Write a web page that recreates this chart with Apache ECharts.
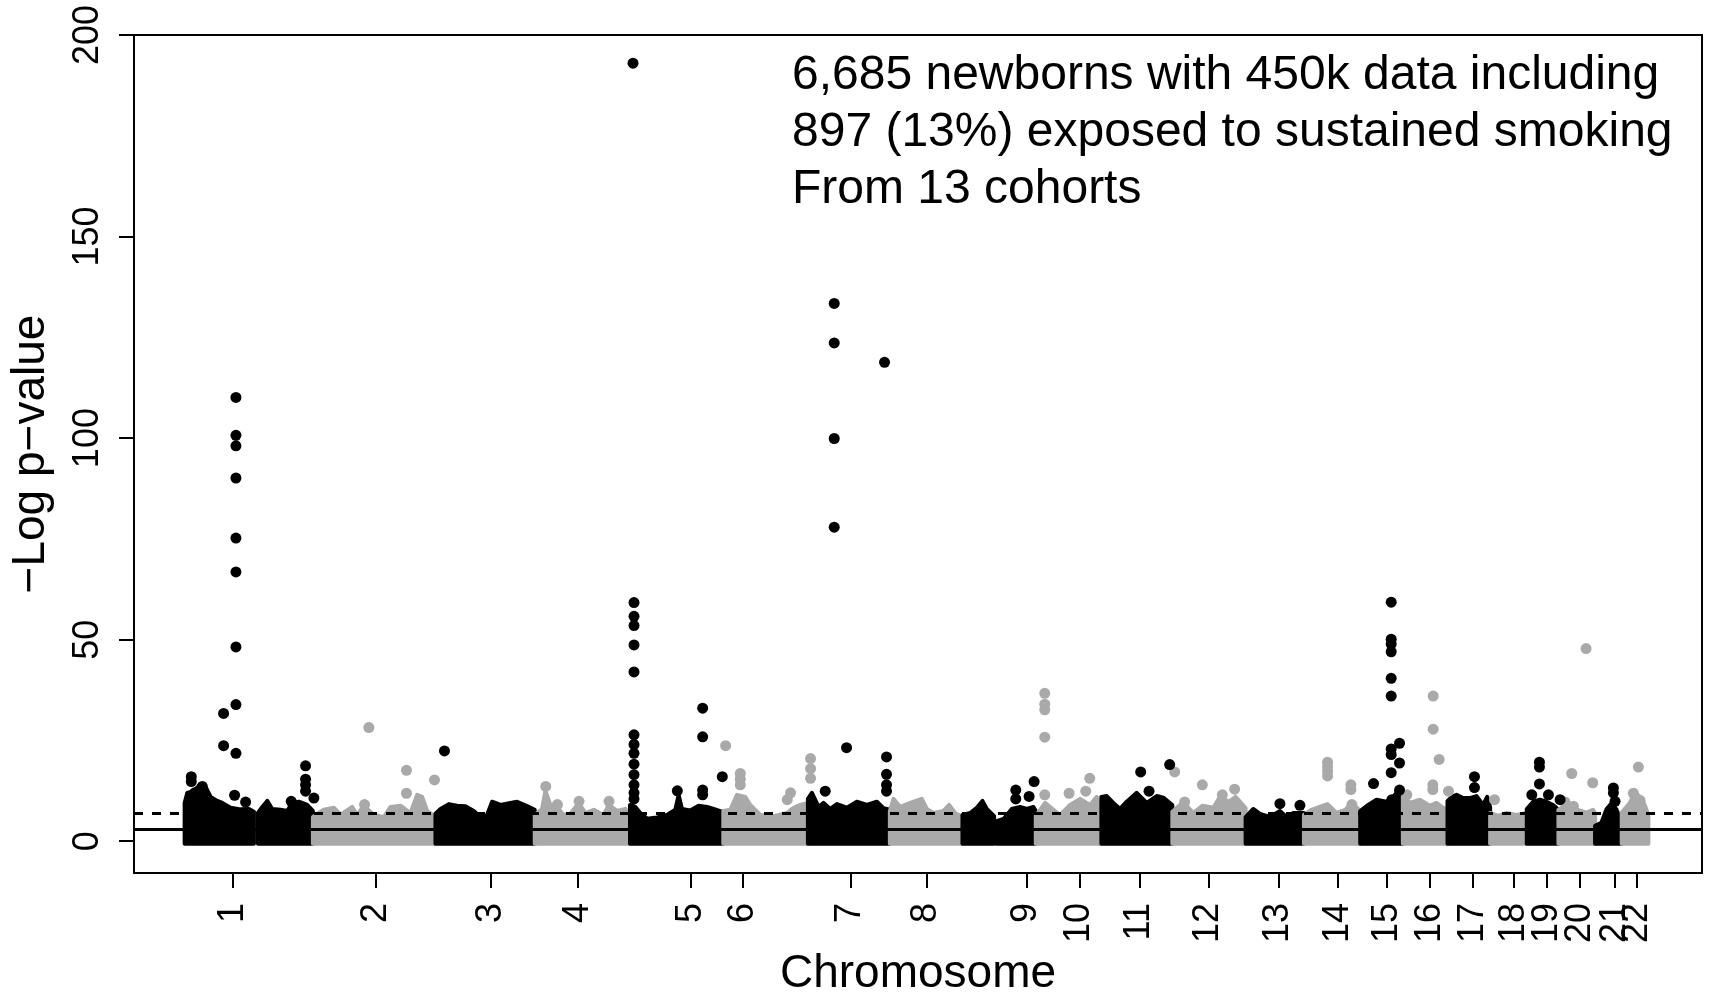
<!DOCTYPE html>
<html>
<head>
<meta charset="utf-8">
<title>Manhattan plot</title>
<script src="https://cdn.jsdelivr.net/npm/echarts@6/dist/echarts.min.js"></script>
<style>
html, body { margin: 0; padding: 0; background: #fff; }
#manhattan { width: 1709px; height: 1002px; }
</style>
</head>
<body>
<div id="manhattan"></div>
<script>
// x = CpG index along the genome (thousands), y = -log p
var chromosomes = ["1", "2", "3", "4", "5", "6", "7", "8", "9", "10", "11",
  "12", "13", "14", "15", "16", "17", "18", "19", "20", "21", "22"];
var chromTicks = [29.7, 72.6, 107.1, 133.2, 167.1, 182.7, 215.1, 237.9, 267.9, 283.8, 301.8,
  322.5, 343.5, 361.5, 376.2, 389.1, 402.0, 414.3, 424.2, 434.1, 444.6, 451.2];
var yTicks = [0, 50, 100, 150, 200];
var solidLine = 3;
var dashedLine = 7;
var bandBottom = -0.6;

// the dense cloud of each chromosome, drawn by its upper outline [x, -log p]
var bandChrom = [1, 1, 2, 3, 4, 5, 6, 7, 8, 9, 9, 10, 11, 12, 13, 14, 15, 16, 17, 18, 19, 20, 21, 22];
var bandTops = [
  [[15.2, 9.5], [16.0, 12.0], [18.0, 12.5], [19.5, 13.8], [21.5, 13.5], [23.0, 11.0], [25.0, 10.0], [26.5, 9.5], [29.0, 8.3], [32.0, 7.9], [34.5, 8.0], [36.0, 7.3]],
  [[37.2, 7.0], [38.5, 8.5], [40.0, 10.0], [41.5, 8.0], [44.0, 7.8], [46.0, 7.5], [47.5, 9.5], [49.5, 9.8], [52.0, 9.0], [53.7, 7.5]],
  [[53.7, 6.0], [55.0, 6.8], [57.0, 7.8], [60.0, 8.3], [62.0, 6.6], [65.5, 8.5], [67.0, 6.5], [69.0, 8.8], [72.0, 6.5], [75.0, 6.0], [77.0, 8.5], [80.0, 8.8], [83.0, 7.0], [85.0, 11.5], [86.5, 11.0], [88.0, 7.5], [90.5, 6.0]],
  [[90.5, 6.8], [92.0, 8.0], [94.5, 9.2], [97.0, 8.8], [99.5, 8.7], [102.0, 7.5], [104.0, 6.0], [106.0, 6.5], [107.5, 9.8], [110.0, 9.0], [113.0, 9.5], [115.0, 9.8], [118.0, 8.7], [120.3, 7.8]],
  [[120.3, 6.5], [122.5, 8.0], [123.5, 12.5], [125.0, 9.0], [127.0, 8.5], [129.0, 6.5], [131.0, 6.8], [133.5, 9.5], [135.5, 7.0], [138.0, 7.8], [141.0, 6.5], [142.5, 9.0], [145.0, 7.5], [147.5, 8.0], [148.9, 6.5]],
  [[148.9, 9.0], [150.5, 8.5], [152.0, 7.0], [154.0, 5.6], [157.0, 5.9], [160.0, 6.5], [162.5, 7.8], [163.5, 11.5], [164.5, 8.0], [167.0, 7.6], [169.5, 8.8], [172.0, 8.5], [174.0, 8.0], [176.9, 7.2]],
  [[176.9, 7.5], [179.0, 7.8], [181.0, 11.5], [183.5, 11.0], [185.0, 9.0], [188.0, 6.5], [192.0, 6.2], [196.0, 7.0], [198.0, 8.3], [200.0, 9.0], [202.3, 9.5]],
  [[202.3, 10.5], [203.5, 12.0], [205.5, 8.5], [207.0, 9.5], [209.0, 8.0], [211.0, 9.2], [214.0, 8.3], [217.0, 9.8], [220.0, 9.0], [223.0, 9.8], [225.0, 8.2], [226.9, 7.8]],
  [[226.9, 7.5], [228.0, 10.5], [230.0, 8.5], [233.0, 9.5], [236.5, 10.5], [238.0, 8.0], [240.0, 7.0], [243.0, 7.5], [244.7, 9.0], [246.5, 7.0], [248.7, 6.0]],
  [[248.7, 6.5], [251.0, 7.0], [253.0, 8.3], [254.7, 10.0], [256.0, 8.0], [258.2, 6.2]],
  [[258.9, 5.0], [261.0, 5.5], [263.5, 8.0], [266.0, 8.5], [268.0, 8.0], [270.0, 8.5], [270.7, 7.5]],
  [[270.7, 6.3], [273.5, 9.5], [275.0, 8.5], [278.0, 6.5], [281.0, 9.0], [284.0, 10.5], [287.0, 9.0], [289.0, 11.0], [290.4, 7.5]],
  [[290.4, 11.0], [292.0, 11.2], [294.0, 9.5], [296.0, 8.0], [298.0, 9.8], [301.0, 12.0], [304.0, 9.5], [307.0, 11.2], [309.0, 10.8], [311.7, 9.0]],
  [[311.7, 7.3], [315.0, 9.7], [318.0, 7.0], [320.7, 8.8], [324.0, 8.3], [326.0, 11.0], [328.7, 9.8], [330.7, 11.0], [333.7, 8.2]],
  [[333.7, 6.0], [336.0, 8.0], [338.0, 6.8], [341.0, 6.0], [344.0, 7.5], [346.0, 6.0], [348.0, 7.0], [351.2, 7.0]],
  [[351.2, 6.5], [353.5, 7.8], [356.5, 8.7], [358.3, 9.2], [361.0, 7.0], [363.6, 7.8], [365.6, 9.5], [368.1, 7.5]],
  [[368.1, 7.5], [370.5, 9.0], [373.0, 10.3], [376.0, 9.8], [378.0, 11.0], [379.5, 12.5], [380.9, 8.5]],
  [[380.9, 11.5], [383.0, 9.5], [386.0, 10.3], [389.0, 8.8], [391.0, 9.5], [393.0, 8.3], [394.3, 7.8]],
  [[394.3, 10.0], [395.6, 11.0], [397.0, 11.5], [399.0, 10.7], [401.0, 10.7], [403.0, 11.2], [405.0, 9.0], [406.2, 11.0], [407.1, 8.5]],
  [[407.1, 7.0], [409.5, 6.3], [412.0, 7.0], [415.0, 6.5], [418.1, 7.0]],
  [[418.1, 8.0], [420.0, 9.8], [422.0, 10.3], [424.0, 9.8], [426.0, 9.0], [427.6, 7.8]],
  [[427.6, 7.8], [430.0, 9.0], [433.0, 7.9], [436.0, 7.1], [438.0, 7.8], [438.6, 7.0]],
  [[438.6, 3.8], [440.5, 4.6], [442.0, 7.9], [443.6, 9.5], [445.0, 7.9], [446.6, 4.6]],
  [[446.6, 7.1], [449.0, 9.5], [450.6, 12.0], [452.6, 10.7], [454.0, 7.9], [454.6, 6.3]]
];

// single CpGs standing out above the cloud
var blackPoints = [
  [30.6, 110.1], [30.6, 100.7], [30.6, 98.1], [30.6, 90.1], [30.6, 75.2], [30.6, 66.8], [30.6, 48.2],
  [30.6, 33.9], [26.9, 31.7], [26.9, 23.7], [30.6, 21.8], [30.2, 11.4], [33.5, 9.7],
  [17.2, 16.0], [17.2, 14.8], [20.5, 13.6], [18.2, 12.0],
  [51.5, 18.7], [51.5, 15.4], [51.5, 14.0], [51.5, 12.4], [54.0, 10.7], [47.2, 9.9],
  [93.2, 22.4],
  [149.8, 193.0], [150.1, 59.2], [150.1, 55.8], [150.1, 53.5], [150.1, 48.7], [150.1, 42.0],
  [150.1, 26.4], [150.1, 24.0], [150.1, 21.8], [150.1, 19.1], [150.1, 16.5], [150.1, 14.0], [150.1, 12.0], [150.1, 10.5],
  [170.7, 33.0], [170.7, 25.9], [176.6, 16.0], [170.7, 12.7], [170.7, 11.5], [163.1, 12.5],
  [210.2, 133.4], [210.2, 123.6], [210.2, 99.9], [210.2, 77.9], [213.9, 23.2],
  [225.3, 118.8], [225.9, 20.9], [225.9, 16.6], [225.9, 14.0], [225.9, 12.4], [207.5, 12.4],
  [264.7, 12.7], [264.7, 10.5], [270.2, 14.8], [268.7, 11.1],
  [302.2, 17.2], [304.7, 12.4], [310.9, 19.0],
  [344.0, 9.3], [350.0, 8.9],
  [377.4, 59.3], [377.4, 50.1], [377.4, 48.9], [377.4, 47.0], [377.4, 40.4], [377.4, 36.0],
  [379.9, 24.3], [377.4, 22.9], [377.4, 21.5], [379.9, 19.4], [377.4, 17.0], [372.1, 14.3], [379.9, 12.7], [377.6, 10.3],
  [402.4, 16.0], [402.4, 13.3],
  [421.9, 19.6], [421.9, 18.4], [421.9, 14.2], [419.6, 11.5], [424.6, 11.5], [428.1, 10.3],
  [444.1, 13.2], [444.1, 12.0], [444.6, 9.9]
];
var greyPoints = [
  [70.5, 28.2], [81.8, 17.6], [90.2, 15.2], [81.8, 11.9], [69.2, 9.1],
  [123.6, 13.6], [127.1, 9.1], [133.6, 9.9], [142.6, 9.9],
  [177.6, 23.7], [182.0, 16.8], [182.0, 15.4], [182.0, 14.0], [203.1, 20.5], [203.1, 18.0], [203.1, 15.6], [197.1, 12.0], [196.1, 10.3],
  [273.4, 36.7], [273.4, 34.0], [273.4, 32.6], [273.4, 25.8], [273.4, 11.5], [280.7, 11.9], [286.9, 15.6], [285.7, 12.4],
  [312.4, 17.2], [320.7, 14.0], [315.4, 9.7], [326.7, 11.5], [330.4, 12.9],
  [358.3, 19.6], [358.3, 18.5], [358.3, 17.3], [358.3, 16.2], [365.3, 14.0], [365.3, 12.8], [365.6, 9.1],
  [390.0, 36.0], [390.0, 27.8], [391.8, 20.3], [389.9, 14.0], [389.9, 12.8], [394.6, 12.4], [382.1, 11.5],
  [408.4, 10.3],
  [435.9, 47.8], [431.6, 16.8], [437.9, 14.5], [429.6, 9.7], [432.1, 8.7],
  [451.6, 18.4], [450.1, 11.9], [452.1, 10.1]
];

var black = "#000000";
var grey = "#a9a9a9";
var font = "Liberation Sans, Arial, sans-serif";

// labels 21 and 22 touch, so odd and even chromosomes get their own label axis
var oddTicks = chromTicks.filter(function (v, i) { return i % 2 === 0; });
var evenTicks = chromTicks.filter(function (v, i) { return i % 2 === 1; });

var myChart = echarts.init(document.getElementById("manhattan"));

function chromName(v) {
  var i = chromTicks.indexOf(v);
  return i < 0 ? "" : chromosomes[i];
}

function labelAxis(ticks, showTicks) {
  return {
    type: "value",
    min: 0,
    max: 470.7,
    position: "bottom",
    axisLine: { show: false, onZero: false },
    splitLine: { show: false },
    axisTick: {
      show: showTicks,
      length: 15,
      customValues: chromTicks,
      lineStyle: { color: "#000", width: 2 }
    },
    axisLabel: {
      customValues: ticks,
      hideOverlap: false,
      rotate: 90,
      margin: 30,
      fontSize: 36,
      color: "#000",
      fontFamily: font,
      formatter: chromName
    }
  };
}

function renderBand(params, api) {
  var idx = api.value(2);
  var tops = bandTops[idx];
  var pts = [api.coord([tops[0][0], bandBottom])];
  tops.forEach(function (p) {
    pts.push(api.coord(p));
  });
  pts.push(api.coord([tops[tops.length - 1][0], bandBottom]));
  var col = bandChrom[idx] % 2 === 1 ? black : grey;
  return {
    type: "polygon",
    shape: { points: pts },
    style: { fill: col, stroke: col, lineWidth: 4, lineJoin: "round" }
  };
}

var xMain = labelAxis(oddTicks, true);
xMain.name = "Chromosome";
xMain.nameLocation = "middle";
xMain.nameGap = 70;
xMain.nameTextStyle = { fontSize: 46, color: "#000", fontFamily: font };

var option = {
  animation: false,
  grid: {
    left: 133,
    right: 7,
    top: 35,
    bottom: 114,
    show: true,
    borderColor: "#000",
    borderWidth: 2,
    backgroundColor: "transparent"
  },
  xAxis: [xMain, labelAxis(evenTicks, false)],
  yAxis: {
    type: "value",
    min: -7.9,
    max: 200,
    name: "\u2212Log p\u2212value",
    nameLocation: "middle",
    nameGap: 80,
    nameTextStyle: { fontSize: 46, color: "#000", fontFamily: font },
    axisLine: { show: false },
    splitLine: { show: false },
    axisTick: {
      show: true,
      length: 15,
      customValues: yTicks,
      lineStyle: { color: "#000", width: 2 }
    },
    axisLabel: {
      customValues: yTicks,
      rotate: 90,
      margin: 28,
      fontSize: 36,
      color: "#000",
      fontFamily: font
    }
  },
  graphic: [
    {
      type: "text",
      left: 792,
      top: 47,
      style: {
        text: "6,685 newborns with 450k data including\n897 (13%) exposed to sustained smoking\nFrom 13 cohorts",
        fontSize: 48,
        lineHeight: 57,
        fontFamily: font,
        fill: "#000"
      }
    }
  ],
  series: [
    {
      type: "custom",
      z: 2,
      renderItem: renderBand,
      encode: { x: [0, 1], y: 2 },
      data: bandTops.map(function (t, i) {
        return [t[0][0], t[t.length - 1][0], i];
      })
    },
    {
      type: "scatter",
      z: 3,
      symbol: "circle",
      symbolSize: 11,
      itemStyle: { color: grey, opacity: 1 },
      data: greyPoints
    },
    {
      type: "scatter",
      z: 4,
      symbol: "circle",
      symbolSize: 11,
      itemStyle: { color: black, opacity: 1 },
      data: blackPoints,
      markLine: {
        silent: true,
        symbol: ["none", "none"],
        label: { show: false },
        data: [
          { yAxis: solidLine, lineStyle: { type: "solid", width: 3, color: "#000" } },
          { yAxis: dashedLine, lineStyle: { type: [9, 9], width: 3, color: "#000" } }
        ]
      }
    }
  ]
};

myChart.setOption(option, true);
</script>
</body>
</html>
